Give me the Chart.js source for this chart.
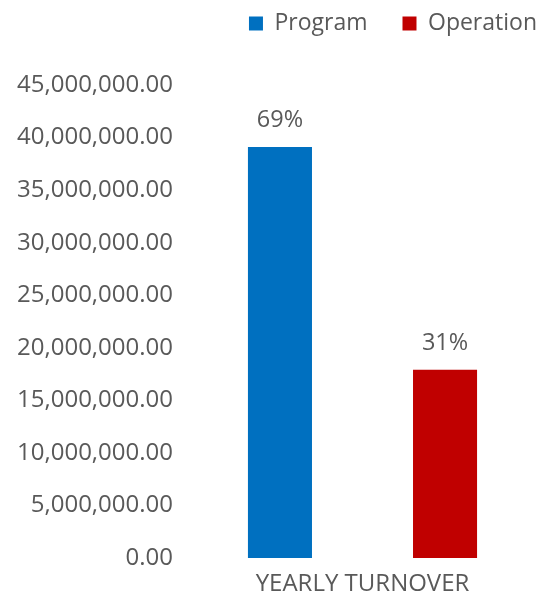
<!DOCTYPE html>
<html>
<head>
<meta charset="utf-8">
<script src="https://cdn.jsdelivr.net/npm/chart.js@4/dist/chart.umd.min.js"></script>
<style>
    body { margin: 0; background: #fff; }
    #wrap { width: 557px; height: 594px; }
</style>
</head>
<body>
<div id="wrap"><canvas id="turnoverChart" width="557" height="594"></canvas></div>
<script>
const categories = ['YEARLY TURNOVER'];
const seriesNames = ['Program', 'Operation'];
const programValues = [39100000];
const operationValues = [17900000];
const seriesColors = ['#0070C0', '#C00000'];
const yMin = 0;
const yMax = 45000000;
const yStep = 5000000;

const textColor = '#595959';
const fontFamily = '"Open Sans", sans-serif';

// percent share written above each bar
const shareLabels = {
    id: 'shareLabels',
    afterDatasetsDraw(chart) {
        const ctx = chart.ctx;
        const sets = chart.data.datasets;
        let total = 0;
        sets.forEach((ds) => { total += ds.data[0]; });
        ctx.save();
        ctx.font = '23.5px ' + fontFamily;
        ctx.fillStyle = textColor;
        ctx.textAlign = 'center';
        ctx.textBaseline = 'alphabetic';
        sets.forEach((ds, i) => {
            const bar = chart.getDatasetMeta(i).data[0];
            const pct = Math.round(ds.data[0] / total * 100) + '%';
            ctx.fillText(pct, bar.x, bar.y - 20);
        });
        ctx.restore();
    }
};

// extra room between legend and plot
const legendGap = {
    id: 'legendGap',
    afterInit(chart) {
        const fit = chart.legend.fit;
        chart.legend.fit = function () {
            fit.bind(chart.legend)();
            this.height += 40;
        };
    }
};

new Chart(document.getElementById('turnoverChart'), {
    type: 'bar',
    data: {
        labels: categories,
        datasets: [
            {label: seriesNames[0], data: programValues, backgroundColor: seriesColors[0], yAxisID: 'y'},
            {label: seriesNames[1], data: operationValues, backgroundColor: seriesColors[1], yAxisID: 'y'}
        ]
    },
    options: {
        responsive: false,
        animation: false,
        categoryPercentage: 0.93,
        barPercentage: 0.388,
        layout: {
            padding: {top: -23, right: -15, left: 0, bottom: 0}
        },
        plugins: {
            legend: {
                position: 'top',
                align: 'end',
                labels: {
                    boxWidth: 14,
                    boxHeight: 14,
                    padding: 35,
                    color: textColor,
                    font: {family: fontFamily, size: 23}
                }
            },
            tooltip: {enabled: false}
        },
        scales: {
            x: {
                grid: {display: false, drawTicks: false},
                border: {display: false},
                ticks: {
                    color: textColor,
                    padding: 12,
                    font: {family: fontFamily, size: 24}
                },
                afterFit: (scale) => { scale.height = 36; }
            },
            y: {
                min: yMin,
                max: yMax,
                grid: {display: false, drawTicks: false},
                border: {display: false},
                ticks: {
                    stepSize: yStep,
                    color: textColor,
                    padding: 12,
                    font: {family: fontFamily, size: 24},
                    callback: (v) => v.toLocaleString('en-US', {minimumFractionDigits: 2, maximumFractionDigits: 2})
                },
                afterFit: (scale) => { scale.width = 185; }
            },
            y2: {
                position: 'right',
                grid: {display: false, drawTicks: false},
                border: {display: false},
                ticks: {display: false},
                afterFit: (scale) => { scale.width = 32; }
            }
        }
    },
    plugins: [shareLabels, legendGap]
});
</script>
</body>
</html>
